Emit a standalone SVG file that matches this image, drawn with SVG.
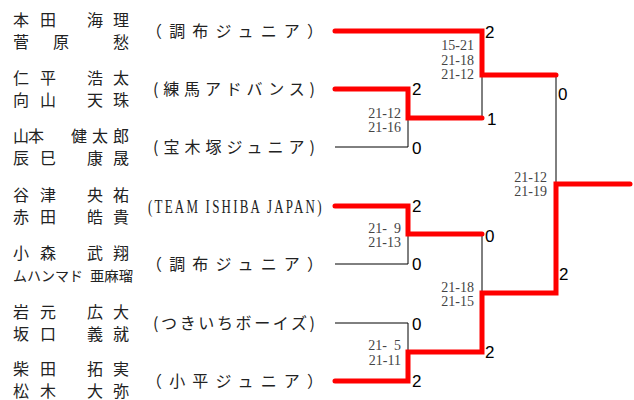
<svg xmlns="http://www.w3.org/2000/svg" width="634" height="400" viewBox="0 0 634 400">
<style>
.nm{font-family:"Noto Sans CJK JP","Noto Sans CJK SC",sans-serif;font-size:16px;fill:#222;}
.nms{font-family:"Noto Sans CJK JP","Noto Sans CJK SC",sans-serif;font-size:14px;fill:#222;}
.tm{font-family:"Noto Sans CJK JP","Noto Sans CJK SC",sans-serif;font-size:16px;fill:#222;}
.tmr{font-family:"Liberation Serif",serif;font-size:18px;fill:#222;}
.sc{font-family:"Liberation Serif",serif;font-size:14px;fill:#444;text-anchor:end;}
.pt{font-family:"Liberation Sans",Arial,sans-serif;font-size:17px;fill:#000;}
.win{fill:none;stroke:#ff0000;stroke-width:5;stroke-linecap:round;stroke-linejoin:miter;}
.los{fill:none;stroke:#000;stroke-width:1;}
</style>
<rect width="634" height="400" fill="#fff"/>
<g id="connectors">
<path class="los" d="M482,75 V118"/>
<path class="los" d="M335,147 H408 V118"/>
<path class="los" d="M556,75 V184"/>
<path class="los" d="M335,264 H408 V234"/>
<path class="los" d="M482,234 V293"/>
<path class="los" d="M335,323 H408 V352"/>
<path class="win" d="M335,31 H482 V75 H556"/>
<path class="win" d="M335,89 H408 V118 H482"/>
<path class="win" d="M335,206 H408 V234 H482"/>
<path class="win" d="M335,381 H408 V352 H482 V293 H556 V184 H630"/>
</g>
<g id="entry1">
<text class="nm" y="26"><tspan x="13">本</tspan><tspan x="40">田</tspan><tspan x="87">海</tspan><tspan x="113">理</tspan></text>
<text class="nm" y="48"><tspan x="13">菅</tspan><tspan x="53">原</tspan><tspan x="113">愁</tspan></text>
<text class="tm" x="146" y="37" textLength="177" lengthAdjust="spacing">（調布ジュニア）</text>
</g>
<g id="entry2">
<text class="nm" y="84"><tspan x="13">仁</tspan><tspan x="40">平</tspan><tspan x="87">浩</tspan><tspan x="113">太</tspan></text>
<text class="nm" y="106"><tspan x="13">向</tspan><tspan x="40">山</tspan><tspan x="87">天</tspan><tspan x="113">珠</tspan></text>
<text class="tm" x="153" y="95" textLength="162" lengthAdjust="spacing">(練馬アドバンス)</text>
</g>
<g id="entry3">
<text class="nm" y="142"><tspan x="13">山</tspan><tspan x="28">本</tspan><tspan x="71">健</tspan><tspan x="92">太</tspan><tspan x="113">郎</tspan></text>
<text class="nm" y="164"><tspan x="13">辰</tspan><tspan x="40">巳</tspan><tspan x="87">康</tspan><tspan x="113">晟</tspan></text>
<text class="tm" x="153" y="153" textLength="162" lengthAdjust="spacing">(宝木塚ジュニア)</text>
</g>
<g id="entry4">
<text class="nm" y="201"><tspan x="13">谷</tspan><tspan x="40">津</tspan><tspan x="87">央</tspan><tspan x="113">祐</tspan></text>
<text class="nm" y="223"><tspan x="13">赤</tspan><tspan x="40">田</tspan><tspan x="87">皓</tspan><tspan x="113">貴</tspan></text>
<g transform="translate(148,0) scale(0.72,1)"><text class="tmr" x="0" y="213" textLength="241" lengthAdjust="spacing">(TEAM ISHIBA JAPAN)</text></g>
</g>
<g id="entry5">
<text class="nm" y="259"><tspan x="13">小</tspan><tspan x="40">森</tspan><tspan x="87">武</tspan><tspan x="113">翔</tspan></text>
<text class="nms" x="13" y="281" textLength="70" lengthAdjust="spacingAndGlyphs">ムハンマド</text>
<text class="nms" x="90" y="281" textLength="43" lengthAdjust="spacingAndGlyphs">亜麻瑠</text>
<text class="tm" x="146" y="270" textLength="177" lengthAdjust="spacing">（調布ジュニア）</text>
</g>
<g id="entry6">
<text class="nm" y="318"><tspan x="13">岩</tspan><tspan x="40">元</tspan><tspan x="87">広</tspan><tspan x="113">大</tspan></text>
<text class="nm" y="340"><tspan x="13">坂</tspan><tspan x="40">口</tspan><tspan x="87">義</tspan><tspan x="113">就</tspan></text>
<text class="tm" x="153" y="329" textLength="162" lengthAdjust="spacing">(つきいちボーイズ)</text>
</g>
<g id="entry7">
<text class="nm" y="375"><tspan x="13">柴</tspan><tspan x="40">田</tspan><tspan x="87">拓</tspan><tspan x="113">実</tspan></text>
<text class="nm" y="397"><tspan x="13">松</tspan><tspan x="40">木</tspan><tspan x="87">大</tspan><tspan x="113">弥</tspan></text>
<text class="tm" x="146" y="387" textLength="177" lengthAdjust="spacing">（小平ジュニア）</text>
</g>
<g id="scores">
<text class="sc" x="474" y="50">15-21</text>
<text class="sc" x="474" y="65">21-18</text>
<text class="sc" x="474" y="79">21-12</text>
<text class="sc" x="401" y="118">21-12</text>
<text class="sc" x="401" y="132">21-16</text>
<text class="sc" x="547" y="182">21-12</text>
<text class="sc" x="547" y="196">21-19</text>
<text class="sc" x="401" y="233">21-<tspan dx="7">9</tspan></text>
<text class="sc" x="401" y="247">21-13</text>
<text class="sc" x="474" y="292">21-18</text>
<text class="sc" x="474" y="306">21-15</text>
<text class="sc" x="401" y="350">21-<tspan dx="7">5</tspan></text>
<text class="sc" x="401" y="365">21-11</text>
</g>
<g id="points">
<text class="pt" x="485" y="38">2</text>
<text class="pt" x="412" y="95">2</text>
<text class="pt" x="487" y="125">1</text>
<text class="pt" x="412" y="154">0</text>
<text class="pt" x="558" y="100">0</text>
<text class="pt" x="412" y="212">2</text>
<text class="pt" x="485" y="242">0</text>
<text class="pt" x="412" y="270">0</text>
<text class="pt" x="559" y="280">2</text>
<text class="pt" x="412" y="330">0</text>
<text class="pt" x="485" y="358">2</text>
<text class="pt" x="412" y="387">2</text>
</g>
</svg>
